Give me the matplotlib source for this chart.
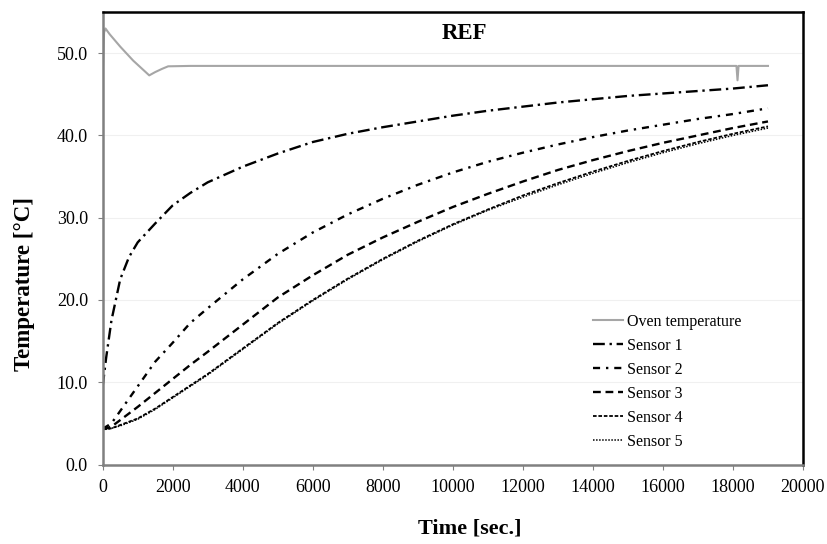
import matplotlib.pyplot as plt

# Podatki odčitani z grafa
t_oven = [0, 40, 80, 200, 500, 870, 1330, 1500, 1700, 1870, 2500, 4000,
          6000, 8000, 10000, 12000, 14000, 16000, 18100, 18130, 18160, 19000]
oven = [47.3, 52.5, 53.0, 52.3, 50.8, 49.1, 47.3, 47.7, 48.1, 48.4, 48.45, 48.45,
        48.45, 48.45, 48.45, 48.45, 48.45, 48.45, 48.45, 46.7, 48.45, 48.45]

t_s = [0, 100, 250, 500, 750, 1000, 1500, 2000, 2500, 3000, 4000, 5000, 6000, 7000,
       8000, 9000, 10000, 11000, 12000, 13000, 14000, 15000, 16000, 17000, 18000, 19000]
sensor1 = [9.5, 13.0, 17.5, 22.5, 25.2, 27.0, 29.3, 31.5, 33.0, 34.3, 36.2, 37.8, 39.2, 40.2,
           41.0, 41.7, 42.4, 43.0, 43.5, 44.0, 44.4, 44.8, 45.1, 45.4, 45.7, 46.1]
sensor2 = [4.4, 4.6, 5.0, 6.5, 8.0, 9.5, 12.5, 14.8, 17.2, 19.0, 22.5, 25.6, 28.2, 30.4,
           32.3, 34.0, 35.5, 36.8, 37.9, 38.9, 39.8, 40.6, 41.3, 42.0, 42.6, 43.3]
sensor3 = [4.4, 4.4, 4.6, 5.4, 6.2, 7.0, 8.7, 10.4, 12.1, 13.7, 17.0, 20.3, 23.0, 25.5,
           27.6, 29.5, 31.3, 32.9, 34.4, 35.8, 37.0, 38.1, 39.1, 40.0, 40.9, 41.7]
sensor4 = [4.3, 4.3, 4.4, 4.8, 5.2, 5.6, 6.8, 8.2, 9.6, 11.0, 14.1, 17.2, 20.0, 22.6,
           25.0, 27.2, 29.2, 31.0, 32.7, 34.2, 35.6, 36.9, 38.1, 39.2, 40.2, 41.1]
sensor5 = [4.3, 4.3, 4.4, 4.7, 5.1, 5.5, 6.7, 8.1, 9.5, 10.9, 14.0, 17.1, 19.9, 22.5,
           24.9, 27.1, 29.1, 30.9, 32.5, 34.0, 35.4, 36.7, 37.9, 39.0, 40.0, 40.9]

plt.rcParams['font.family'] = 'Liberation Serif'

fig = plt.figure(figsize=(8.28, 5.44), dpi=100)
ax = fig.add_axes([0.1240, 0.1461, 0.8458, 0.8318])

ax.plot(t_oven, oven, color='#a6a6a6', lw=1.5, label='Oven temperature')
ax.plot(t_s, sensor1, color='black', lw=1.7, dashes=(5, 2, 1, 2), label='Sensor 1')
ax.plot(t_s, sensor2, color='black', lw=1.7, dashes=(3, 2.5, 1, 2.5), label='Sensor 2')
ax.plot(t_s, sensor3, color='black', lw=1.7, dashes=(3.3, 2), label='Sensor 3')
ax.plot(t_s, sensor4, color='black', lw=1.3, dashes=(2, 1), label='Sensor 4')
ax.plot(t_s, sensor5, color='black', lw=1.1, dashes=(1, 1), label='Sensor 5')

ax.set_xlim(0, 20000)
ax.set_ylim(0, 55)
ax.set_xticks(range(0, 20001, 2000))
ax.set_yticks([0, 10, 20, 30, 40, 50])
ax.set_yticklabels(['%.1f' % v for v in [0, 10, 20, 30, 40, 50]])
ax.tick_params(labelsize=13, length=3.6, pad=7, color='#808080')
ax.grid(axis='y', color='#f0f0f0', lw=0.8)
ax.set_axisbelow(True)

for s in ['top', 'right']:
    ax.spines[s].set_color('black')
    ax.spines[s].set_linewidth(1.8)
for s in ['left', 'bottom']:
    ax.spines[s].set_color('#808080')
    ax.spines[s].set_linewidth(1.8)

ax.set_xlabel('Time [sec.]', fontsize=16, fontweight='bold')
ax.set_ylabel('Temperature [°C]', fontsize=16.5, fontweight='bold')
ax.xaxis.set_label_coords(0.5245, -0.12)
ax.yaxis.set_label_coords(-0.097, 0.399)
ax.text(0.517, 0.976, 'REF', transform=ax.transAxes, ha='center', va='top',
        fontsize=16.5, fontweight='bold')

ax.legend(loc='upper left', bbox_to_anchor=(593 / 828, 1 - 314 / 544),
          bbox_transform=fig.transFigure, frameon=False, fontsize=11.5,
          borderpad=0, borderaxespad=0, handlelength=1.9, handletextpad=0.2,
          labelspacing=0.5)

plt.savefig('out.png', dpi=100)
